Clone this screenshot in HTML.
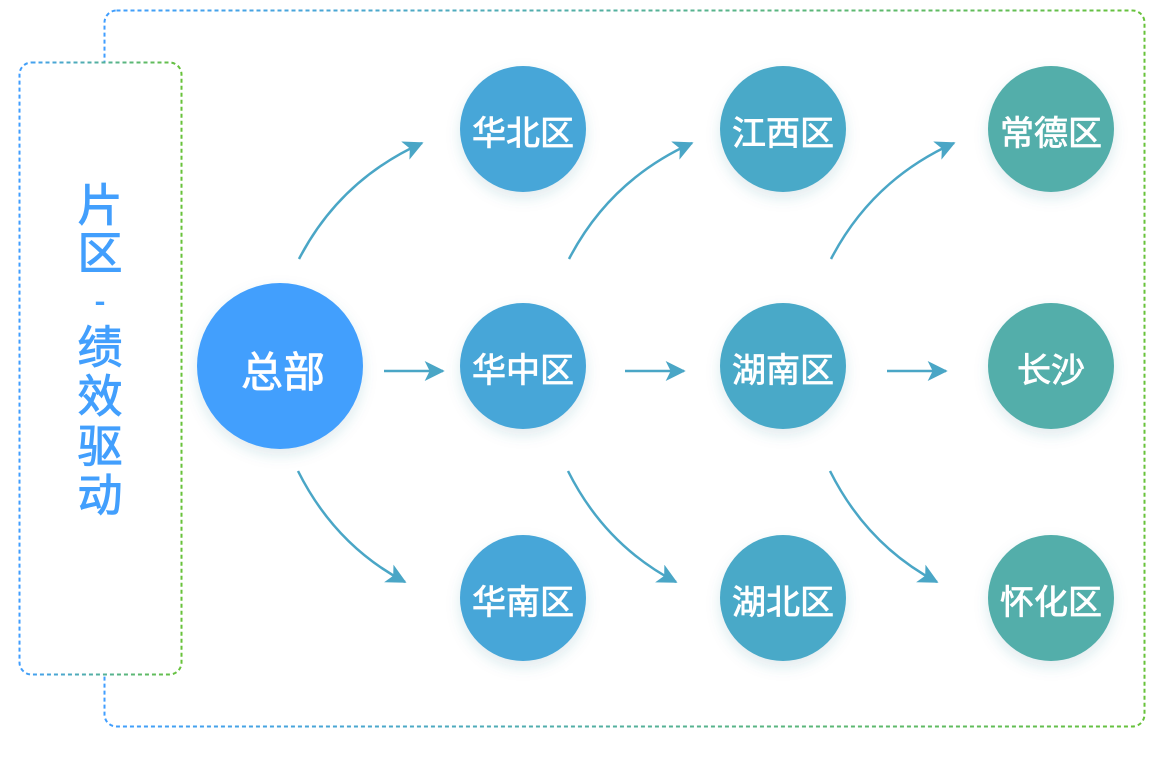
<!DOCTYPE html>
<html><head><meta charset="utf-8"><style>
html,body{margin:0;padding:0;background:#fff;}
svg text{font-family:"Liberation Sans","Noto Sans CJK SC",sans-serif;}
</style></head><body>
<svg width="1174" height="758" viewBox="0 0 1174 758" xmlns="http://www.w3.org/2000/svg">
<defs>
<linearGradient id="g1" x1="0" y1="0" x2="1" y2="0"><stop offset="0" stop-color="#409eff"/><stop offset="1" stop-color="#67c23a"/></linearGradient>
<filter id="sh" x="-30%" y="-30%" width="160%" height="170%"><feDropShadow dx="0" dy="6" stdDeviation="7" flood-color="#2a7a8a" flood-opacity="0.15"/></filter>
<marker id="a1" viewBox="0 0 12 12" refX="11" refY="6" markerWidth="20" markerHeight="20" orient="auto" markerUnits="userSpaceOnUse"><path d="M0,0 L12,6 L0,12 L3,6 Z" fill="#4aa6c6"/></marker>
</defs>
<rect x="104.5" y="10.5" width="1040" height="716" rx="12" fill="none" stroke="url(#g1)" stroke-width="2" stroke-dasharray="4,3"/>
<rect x="19.5" y="62.5" width="162" height="612" rx="12" fill="#fff" stroke="url(#g1)" stroke-width="2" stroke-dasharray="4,3"/>
<g fill="#429ffd" stroke="#429ffd" stroke-width="1" font-size="45" text-anchor="middle">
<text x="100" y="221">片</text>
<text x="100" y="269">区</text>
<text x="100" y="311" font-size="30">-</text>
<text x="100" y="363">绩</text>
<text x="100" y="412">效</text>
<text x="100" y="462">驱</text>
<text x="100" y="511">动</text>
</g>
<g fill="none" stroke="#4aa6c6" stroke-width="2.5" marker-end="url(#a1)">
<path d="M299,259 Q340,180 422,143"/>
<path d="M384,371 L443,371"/>
<path d="M298,471 Q335,545 405,582"/>
<path d="M569,259 Q610,180 692,143"/>
<path d="M625,371 L684,371"/>
<path d="M568,471 Q605,545 676,582"/>
<path d="M831,259 Q872,180 954,143"/>
<path d="M887,371 L946,371"/>
<path d="M830,471 Q867,545 937,582"/>
</g>
<g filter="url(#sh)">
<circle cx="280" cy="366" r="83" fill="#429ffd"/>
<circle cx="523" cy="129" r="63" fill="#47a6d8"/>
<circle cx="523" cy="366" r="63" fill="#47a6d8"/>
<circle cx="523" cy="598" r="63" fill="#47a6d8"/>
<circle cx="783" cy="129" r="63" fill="#4aa9c8"/>
<circle cx="783" cy="366" r="63" fill="#4aa9c8"/>
<circle cx="783" cy="598" r="63" fill="#4aa9c8"/>
<circle cx="1051" cy="129" r="63" fill="#52aeaa"/>
<circle cx="1051" cy="366" r="63" fill="#52aeaa"/>
<circle cx="1051" cy="598" r="63" fill="#52aeaa"/>
</g>
<g fill="#fff" stroke="#fff" stroke-width="0.8" text-anchor="middle" font-size="34">
<text x="283" y="387" font-size="42">总部</text>
<text x="523" y="145">华北区</text>
<text x="523" y="382">华中区</text>
<text x="523" y="614">华南区</text>
<text x="783" y="145">江西区</text>
<text x="783" y="382">湖南区</text>
<text x="783" y="614">湖北区</text>
<text x="1051" y="145">常德区</text>
<text x="1051" y="382">长沙</text>
<text x="1051" y="614">怀化区</text>
</g>
</svg>
</body></html>
